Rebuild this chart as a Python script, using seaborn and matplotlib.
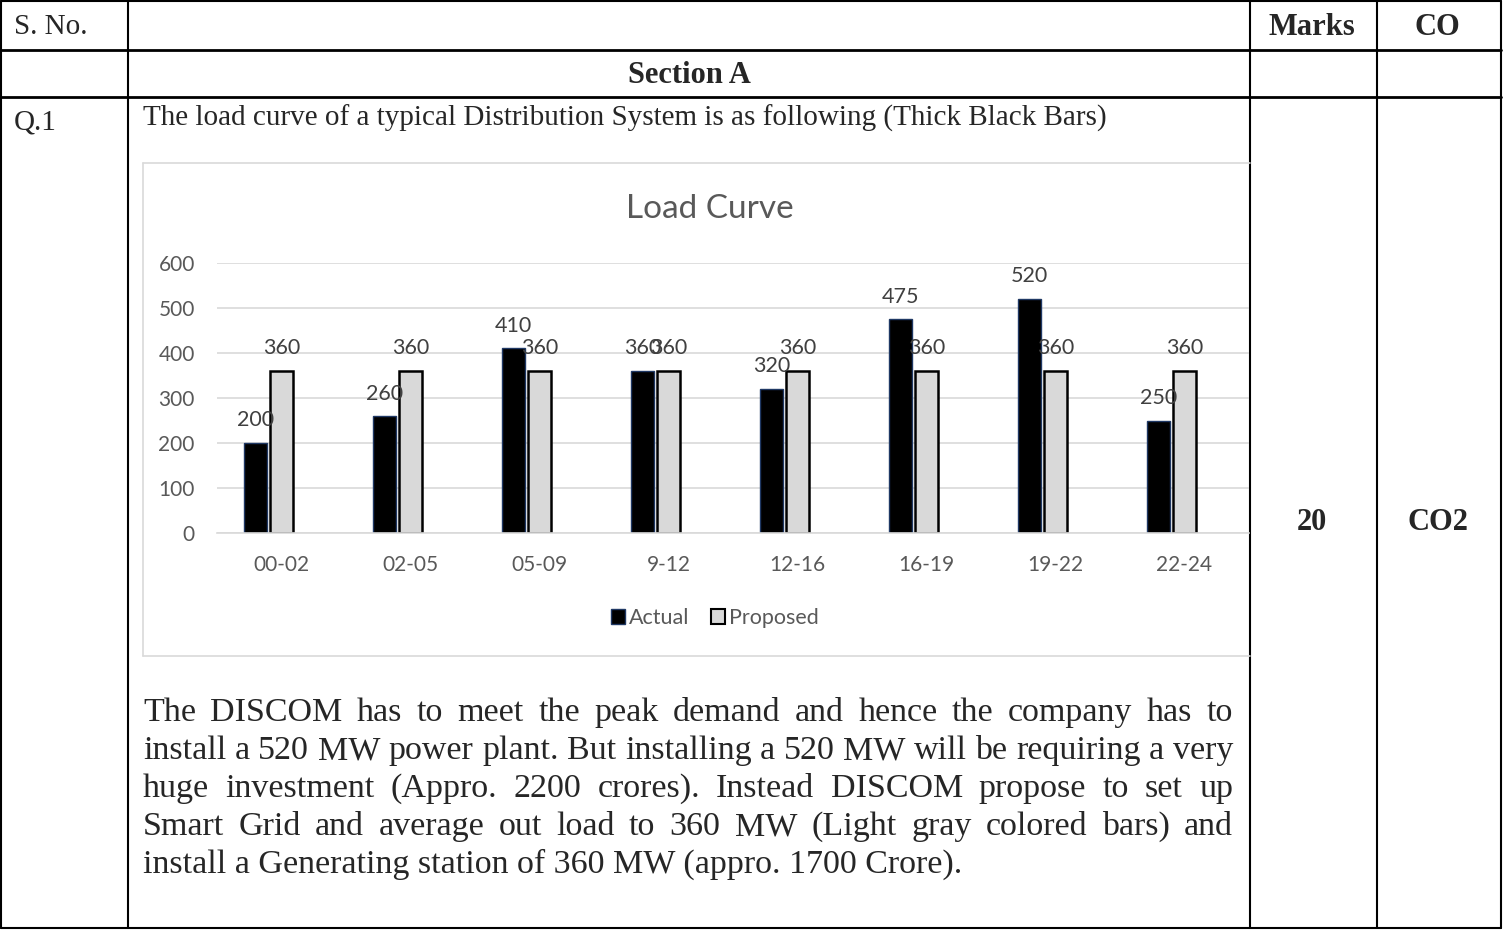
import matplotlib
matplotlib.use("Agg")
from matplotlib import pyplot as plt
from matplotlib.patches import Patch
import numpy as np
import pandas as pd
import seaborn as sns

# --------------
# values
periods = ["00-02", "02-05", "05-09", "9-12", "12-16", "16-19", "19-22", "22-24"]
actual = [200, 260, 410, 360, 320, 475, 520, 250]
proposed = [360, 360, 360, 360, 360, 360, 360, 360]
y_ticks = [0, 100, 200, 300, 400, 500, 600]
series = ["Actual", "Proposed", "spacer"]   # excel chart had an empty 3rd series

chart_title = "Load Curve"
question = "The load curve of a typical Distribution System is as following (Thick Black Bars)"
paragraph = [
    "The DISCOM has to meet the peak demand and hence the company has to",
    "install a 520 MW power plant. But installing a 520 MW will be requiring a very",
    "huge investment (Appro. 2200 crores). Instead DISCOM propose to set up",
    "Smart Grid and average out load to 360 MW (Light gray colored bars) and",
    "install a Generating station of 360 MW (appro. 1700 Crore).",
]

W, H = 1503, 930
serif = "Liberation Serif"
sans = "Lato"
grey_txt = "#595959"
grid_col = "#d9d9d9"

sns.set_style("white")
fig = plt.figure(figsize=(W / 100, H / 100), dpi=100)

# background axes in pixel units for the table
bg = fig.add_axes([0, 0, 1, 1])
bg.set_xlim(0, W)
bg.set_ylim(H, 0)
bg.axis("off")

lw = 1.5
for x in [1, 128, 1250, 1377, 1501]:
    bg.plot([x, x], [1, 928], color="black", lw=lw)
for y in [1, 50, 97, 928]:
    bg.plot([1, 1501], [y, y], color="black", lw=lw if y in (1, 928) else 2)

# chart frame (right side hidden behind the cell border)
bg.plot([143, 143], [163, 656], color=grid_col, lw=1.2)
bg.plot([143, 1250], [163, 163], color=grid_col, lw=1.2)
bg.plot([143, 1250], [656, 656], color=grid_col, lw=1.2)

fs_head = 21
fs_bold = 22
bg.text(14, 34, "S. No.", fontsize=fs_head, family=serif, va="baseline")
bg.text(1312, 35, "Marks", fontsize=fs_bold, family=serif, weight="bold", ha="center", va="baseline")
bg.text(1437, 35, "CO", fontsize=fs_bold, family=serif, weight="bold", ha="center", va="baseline")
bg.text(689, 83, "Section A", fontsize=fs_bold, family=serif, weight="bold", ha="center", va="baseline")
bg.text(14, 129, "Q.1", fontsize=fs_head, family=serif, va="baseline")
bg.text(143, 126, question, fontsize=fs_head, family=serif, va="baseline")
bg.text(1312, 530, "20", fontsize=fs_bold, family=serif, weight="bold", ha="center", va="baseline")
bg.text(1438, 530, "CO2", fontsize=fs_bold, family=serif, weight="bold", ha="center", va="baseline")

bg.text(710, 209, chart_title, fontsize=24, family=sans, color=grey_txt, ha="center", va="center")

# justified paragraph
fs_par = 24.5
renderer = fig.canvas.get_renderer()
x0, x1 = 143, 1233
base = 721
for i, line in enumerate(paragraph):
    y = base + 38 * i
    if i == len(paragraph) - 1:
        bg.text(x0, y, line, fontsize=fs_par, family=serif, va="baseline")
        continue
    words = line.split()
    texts = [bg.text(0, y, w, fontsize=fs_par, family=serif, va="baseline") for w in words]
    widths = [t.get_window_extent(renderer).width for t in texts]
    gap = (x1 - x0 - sum(widths)) / (len(words) - 1)
    x = x0
    for t, w in zip(texts, widths):
        t.set_x(x)
        x += w + gap

# the chart itself
df = pd.DataFrame({"Period": periods, "Actual": actual, "Proposed": proposed})
df_long = df.melt(id_vars="Period", var_name="Series", value_name="Load")

ax = fig.add_axes([217 / W, 1 - 533 / H, (1249 - 217) / W, 270 / H])
ax.patch.set_alpha(0)
sns.barplot(data=df_long, x="Period", y="Load", hue="Series", order=periods,
            hue_order=series, palette={"Actual": "black", "Proposed": grid_col, "spacer": "white"},
            width=0.6, gap=0.1, saturation=1, legend=False, ax=ax)

for bar in ax.containers[0]:
    bar.set_edgecolor("#1f3864")
    bar.set_linewidth(1.0)
for bar in ax.containers[1]:
    bar.set_edgecolor("black")
    bar.set_linewidth(1.8)
for c in ax.containers[:2]:
    ax.bar_label(c, padding=9, fontsize=15.5, color="#404040", family=sans)

ax.set_xlim(-0.5, len(periods) - 0.5)
ax.set_ylim(0, 600)
ax.set_yticks(y_ticks)
ax.yaxis.grid(True, color=grid_col, lw=1.2)
ax.set_axisbelow(True)
for s in ["top", "right", "left"]:
    ax.spines[s].set_visible(False)
ax.spines["bottom"].set_color(grid_col)
ax.spines["bottom"].set_linewidth(1.2)
ax.tick_params(length=0, labelsize=15, labelcolor=grey_txt)
ax.tick_params(axis="y", pad=16)
ax.tick_params(axis="x", pad=16)
for lab in ax.get_xticklabels() + ax.get_yticklabels():
    lab.set_family(sans)
ax.set_xlabel("")
ax.set_ylabel("")

handles = [Patch(facecolor="black", edgecolor="#1f3864", label="Actual"),
           Patch(facecolor=grid_col, edgecolor="black", lw=1.5, label="Proposed")]
ax.legend(handles=handles, loc="center", bbox_to_anchor=(715 / W, 1 - 618 / H),
          bbox_transform=fig.transFigure, ncol=2, frameon=False,
          handlelength=0.65, handleheight=0.65, handletextpad=0.2, columnspacing=1.0,
          prop={"family": sans, "size": 15.5}, labelcolor=grey_txt)

fig.savefig("out.png", dpi=100)
